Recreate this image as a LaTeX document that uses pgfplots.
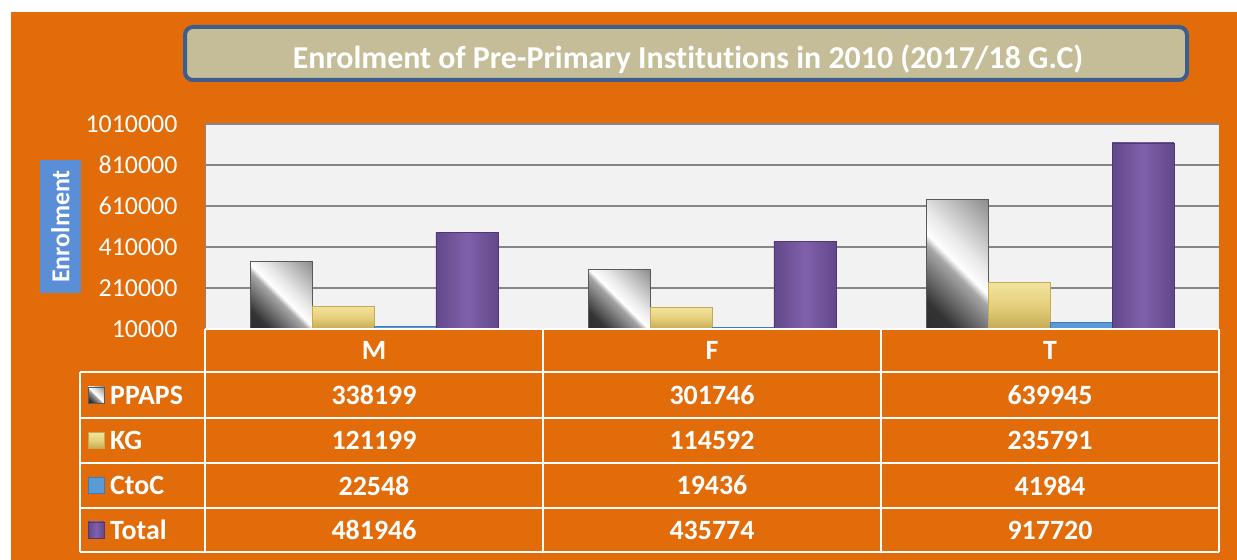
\documentclass[border=0pt]{standalone}
\usepackage{pgfplots}
\pgfplotsset{compat=1.18}
\usepackage{pgfplotstable}
\usepackage{fontspec}
\setmainfont{Carlito}[Ligatures=NoCommon]
\definecolor{bg}{HTML}{E36C0A}
\definecolor{titlefill}{HTML}{C4BD97}
\definecolor{titleborder}{HTML}{3D5E8C}
\definecolor{ylabfill}{HTML}{5A8ED6}
\definecolor{plotbg}{HTML}{F2F2F2}
\definecolor{gridc}{HTML}{868686}
\definecolor{kgl}{HTML}{F2E39C}
\definecolor{kg}{HTML}{E6CF7C}
\definecolor{kgd}{HTML}{C4AA52}
\definecolor{ctoc}{HTML}{5B9BD5}
\definecolor{ctocd}{HTML}{3D7BBF}
\definecolor{tot}{HTML}{8060AB}
\definecolor{totd}{HTML}{4F3875}
\pgfdeclarehorizontalshading{silver}{100bp}{color(0bp)=(black!85); color(25bp)=(black!80); color(46bp)=(black!35); color(50bp)=(white); color(60bp)=(black!10); color(100bp)=(black!65)}
\pgfplotstableread{
x PPAPS KG CtoC Total
0 338199 121199 22548 481946
1 301746 114592 19436 435774
2 639945 235791 41984 917720
}\data
\newcommand\tf{\bfseries\fontsize{28}{30}\selectfont}
\begin{document}
\begin{tikzpicture}
\begin{scope}[x=1bp,y=1bp]
\fill[white] (0,0) rectangle (1237,560);
\fill[bg] (11,0) rectangle (1237,548);
% title
\draw[titleborder, line width=4bp, fill=titlefill, rounded corners=8bp] (185,480) rectangle (1187,533);
\node[white, font=\bfseries\fontsize{32}{34}\selectfont, anchor=base] at (688,491) {Enrolment of Pre-Primary Institutions in 2010 (2017/18 G.C)};
% y label
\fill[ylabfill] (40,267) rectangle (81,400);
\node[white, rotate=90, font=\bfseries\fontsize{26}{28}\selectfont] at (60.5,333.5) {Enrolment};
\end{scope}
\begin{axis}[
  at={(205bp,231bp)}, anchor=south west, scale only axis,
  width=1014bp, height=205bp,
  xmin=-0.5, xmax=2.5, ymin=10000, ymax=1010000,
  ytick={10000,210000,410000,610000,810000,1010000},
  xtick=\empty,
  scaled y ticks=false,
  ymajorgrids, grid style={gridc, line width=1.4bp},
  axis background/.style={fill=plotbg},
  axis line style={draw=none},
  major tick length=0,
  yticklabel style={white, font=\fontsize{26}{28}\selectfont, xshift=-24bp,
    /pgf/number format/fixed, /pgf/number format/1000 sep={},
    /pgf/number format/assume math mode=true},
  ybar, bar width=0.1834,
]
\pgfplotsinvokeforeach{0,1,2}{
\addplot[draw=black!65, line width=0.8bp, shading=silver, shading angle=45, bar shift=-0.2751, restrict x to domain=#1:#1] table[x=x,y=PPAPS]{\data};
\addplot[draw=kgd, line width=0.8bp, top color=kgl, bottom color=kgd, middle color=kg, bar shift=-0.0917, restrict x to domain=#1:#1] table[x=x,y=KG]{\data};
\addplot[draw=ctocd, line width=0.8bp, fill=ctoc, bar shift=0.0917, restrict x to domain=#1:#1] table[x=x,y=CtoC]{\data};
\addplot[draw=totd, line width=0.8bp, left color=totd!60!tot, right color=totd!60!tot, middle color=tot, bar shift=0.2751, restrict x to domain=#1:#1] table[x=x,y=Total]{\data};
}
\draw[gridc, line width=1.4bp] (axis cs:-0.5,10000) -- (axis cs:-0.5,1010000);
\end{axis}
\begin{scope}[x=1bp,y=1bp]
% table
\begin{scope}[white, line width=1.6bp]
\draw (205,231) -- (1219,231);
\draw (80,188) -- (1219,188);
\draw (80,142) -- (1219,142);
\draw (80,97) -- (1219,97);
\draw (80,52) -- (1219,52);
\draw (80,8) -- (1219,8);
\draw (80,188) -- (80,8);
\draw (205,231) -- (205,8);
\draw (543,231) -- (543,8);
\draw (881,231) -- (881,8);
\draw (1219,231) -- (1219,8);
\end{scope}
\foreach \t/\xx in {M/374,F/712,T/1050}{\node[white,font=\tf] at (\xx,209.5) {\t};}
% legend markers
\shade[shading=silver, shading angle=45, draw=black!65] (88,157) rectangle (104,173);
\shade[top color=kgl, bottom color=kgd, middle color=kg, draw=kgd] (88,111.5) rectangle (104,127.5);
\fill[ctoc, draw=ctocd] (88,66.5) rectangle (104,82.5);
\shade[left color=totd!60!tot, right color=totd!60!tot, middle color=tot, draw=totd] (88,22) rectangle (104,38);
\foreach \lab/\yy in {PPAPS/165,KG/119.5,CtoC/74.5,Total/30}{\node[white,font=\tf,anchor=west,inner sep=0pt] at (110,\yy) {\lab};}
\foreach \a/\b/\c/\yy in {338199/301746/639945/165, 121199/114592/235791/119.5, 22548/19436/41984/74.5, 481946/435774/917720/30}{
  \node[white,font=\tf] at (374,\yy) {\a};
  \node[white,font=\tf] at (712,\yy) {\b};
  \node[white,font=\tf] at (1050,\yy) {\c};
}
\end{scope}
\end{tikzpicture}
\end{document}
